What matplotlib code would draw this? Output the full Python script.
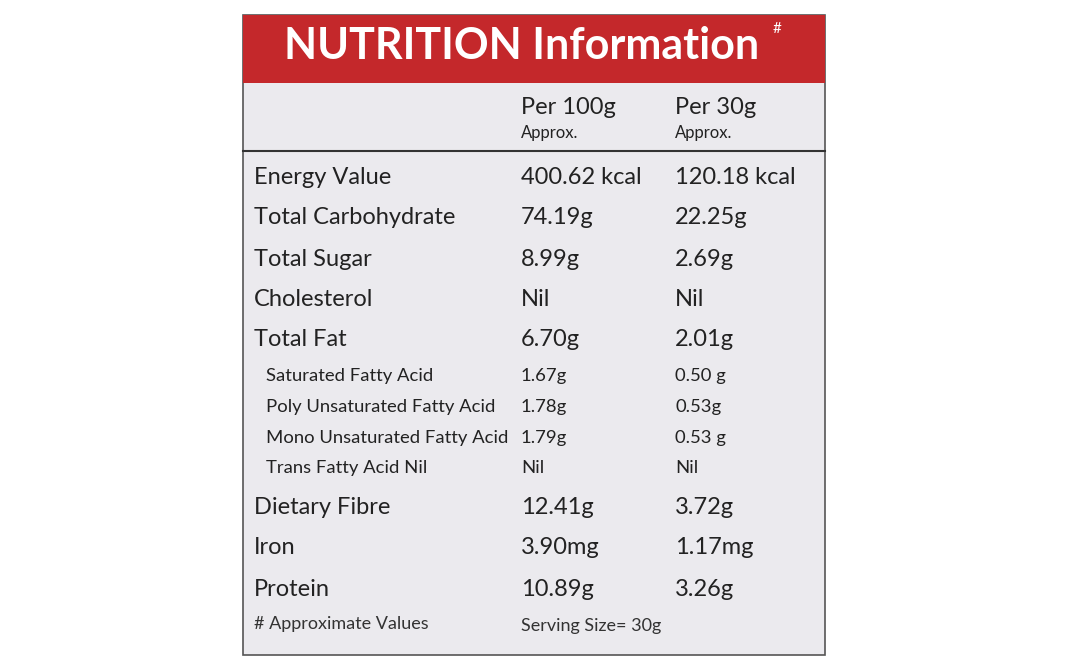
import matplotlib
matplotlib.use("Agg")
import matplotlib.pyplot as plt
from matplotlib.patches import Rectangle

labels = ["Energy Value", "Total Carbohydrate", "Total Sugar", "Cholesterol", "Total Fat",
          "Saturated Fatty Acid", "Poly Unsaturated Fatty Acid", "Mono Unsaturated Fatty Acid",
          "Trans Fatty Acid Nil", "Dietary Fibre", "Iron", "Protein"]
per100 = ["400.62 kcal", "74.19g", "8.99g", "Nil", "6.70g", "1.67g", "1.78g", "1.79g", "Nil",
          "12.41g", "3.90mg", "10.89g"]
per30 = ["120.18 kcal", "22.25g", "2.69g", "Nil", "2.01g", "0.50 g", "0.53g", "0.53 g", "Nil",
         "3.72g", "1.17mg", "3.26g"]
is_sub = [False]*5 + [True]*4 + [False]*3
row_y = [177, 218, 259, 299, 340, 376, 407, 438, 468, 507, 548, 590]

FONT = "Lato"
fig = plt.figure(figsize=(10.68, 6.71), dpi=100)
ax = fig.add_axes([0, 0, 1, 1])
ax.set_xlim(0, 1068); ax.set_ylim(671, 0); ax.axis("off")
fig.patch.set_facecolor("white")

ax.add_patch(Rectangle((243, 15), 582, 640, facecolor="#ebeaee", edgecolor="#555555", lw=1.2))
ax.add_patch(Rectangle((243, 15), 582, 68, facecolor="#c4282b", edgecolor="none"))
ax.text(284, 46, "NUTRITION Information", color="white", fontsize=31, fontweight="bold",
        family=FONT, va="center", ha="left")
ax.text(773, 29, "#", color="white", fontsize=11, family=FONT, va="center")
ax.plot([243, 825], [151, 151], color="#333333", lw=1.5)

for x, t in [(521, "Per 100g"), (675, "Per 30g")]:
    ax.text(x, 108, t, fontsize=17, family=FONT, va="center", color="#222222")
    ax.text(x, 133, "Approx.", fontsize=12, family=FONT, va="center", color="#222222")

for lab, a, b, s, y in zip(labels, per100, per30, is_sub, row_y):
    fs = 13.3 if s else 17
    ax.text(266 if s else 254, y, lab, fontsize=fs, family=FONT, va="center", color="#222222")
    ax.text(521, y, a, fontsize=fs, family=FONT, va="center", color="#222222")
    ax.text(675, y, b, fontsize=fs, family=FONT, va="center", color="#222222")

ax.text(254, 624, "# Approximate Values", fontsize=13, family=FONT, va="center", color="#333333")
ax.text(521, 626, "Serving Size= 30g", fontsize=13, family=FONT, va="center", color="#333333")

fig.savefig("out.png", dpi=100)
